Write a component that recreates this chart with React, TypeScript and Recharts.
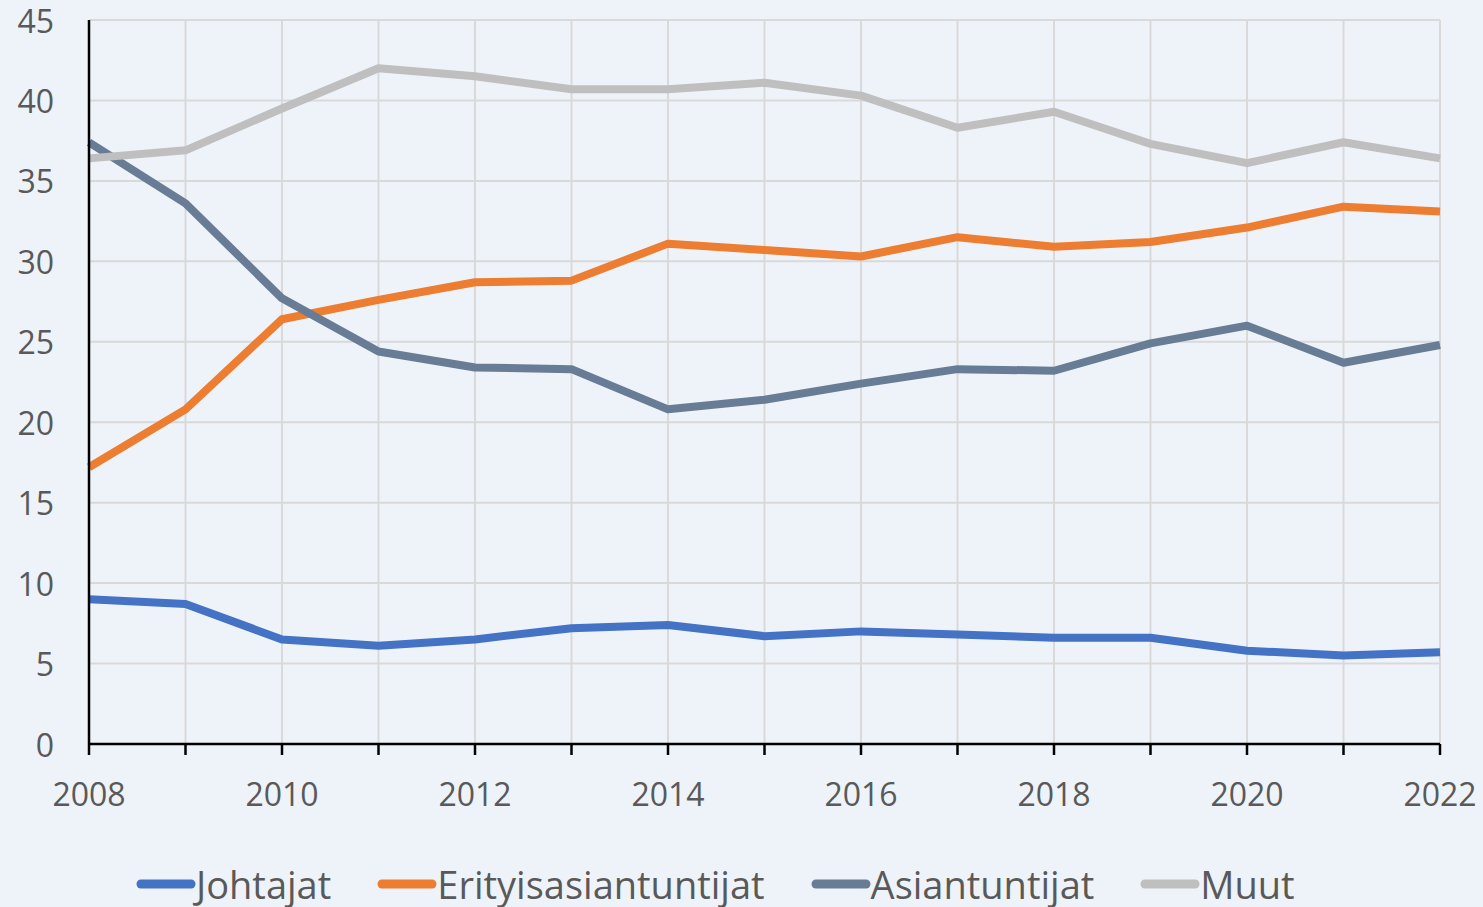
import { LineChart, Line, XAxis, YAxis, CartesianGrid, Legend } from "recharts";

const years = [2008, 2009, 2010, 2011, 2012, 2013, 2014, 2015, 2016, 2017, 2018, 2019, 2020, 2021, 2022];
const johtajat = [9.0, 8.7, 6.5, 6.1, 6.5, 7.2, 7.4, 6.7, 7.0, 6.8, 6.6, 6.6, 5.8, 5.5, 5.7];
const erityisasiantuntijat = [17.2, 20.8, 26.4, 27.6, 28.7, 28.8, 31.1, 30.7, 30.3, 31.5, 30.9, 31.2, 32.1, 33.4, 33.1];
const asiantuntijat = [37.4, 33.6, 27.7, 24.4, 23.4, 23.3, 20.8, 21.4, 22.4, 23.3, 23.2, 24.9, 26.0, 23.7, 24.8];
const muut = [36.4, 36.9, 39.5, 42.0, 41.5, 40.7, 40.7, 41.1, 40.3, 38.3, 39.3, 37.3, 36.1, 37.4, 36.4];
const yTicks = [0, 5, 10, 15, 20, 25, 30, 35, 40, 45];

const series = [
  { key: "johtajat", name: "Johtajat", color: "#4472C4" },
  { key: "erityisasiantuntijat", name: "Erityisasiantuntijat", color: "#ED7D31" },
  { key: "asiantuntijat", name: "Asiantuntijat", color: "#687C96" },
  { key: "muut", name: "Muut", color: "#BFBFBF" },
];

const data = years.map((year, i) => ({
  year,
  johtajat: johtajat[i],
  erityisasiantuntijat: erityisasiantuntijat[i],
  asiantuntijat: asiantuntijat[i],
  muut: muut[i],
}));

const FONT = "'Open Sans', 'Noto Sans', sans-serif";
const TEXT = "#595959";

function XTick(props: any) {
  const { x, y, payload } = props;
  if (payload.value % 2 !== 0) return null;
  return (
    <text x={x} y={y + 36} textAnchor="middle" dominantBaseline="central" fill={TEXT} fontSize={32} fontFamily={FONT}>
      {payload.value}
    </text>
  );
}

function YTick(props: any) {
  const { x, y, payload } = props;
  return (
    <text x={x - 35} y={y} textAnchor="end" dominantBaseline="central" fill={TEXT} fontSize={32} fontFamily={FONT}>
      {payload.value}
    </text>
  );
}

function LegendContent() {
  return (
    <div style={{ display: "flex", alignItems: "center", paddingLeft: 136, fontFamily: FONT, fontSize: 38, color: TEXT, height: 40 }}>
      {series.map((s) => (
        <div key={s.key} style={{ display: "flex", alignItems: "center", marginRight: 46 }}>
          <svg width={60} height={12} style={{ display: "block" }}>
            <line x1={5} y1={6} x2={55} y2={6} stroke={s.color} strokeWidth={9} strokeLinecap="round" />
          </svg>
          <span style={{ lineHeight: "40px", whiteSpace: "nowrap" }}>{s.name}</span>
        </div>
      ))}
    </div>
  );
}

export default function App() {
  return (
    <div style={{ position: "absolute", left: 0, top: 0, width: 1483, height: 907, background: "#EEF3F9" }}>
      <LineChart width={1483} height={907} data={data} margin={{ top: 20, right: 43, bottom: 0, left: 0 }}>
        <CartesianGrid stroke="#D9D9D9" strokeWidth={2} />
        <XAxis
          type="number"
          dataKey="year"
          domain={[2008, 2022]}
          ticks={years}
          interval={0}
          tick={<XTick />}
          tickSize={11}
          tickMargin={2}
          height={123}
          axisLine={{ stroke: "#000", strokeWidth: 2.5 }}
          tickLine={{ stroke: "#000", strokeWidth: 2.5 }}
        />
        <YAxis
          type="number"
          domain={[0, 45]}
          ticks={yTicks}
          interval={0}
          width={89}
          tick={<YTick />}
          tickSize={0}
          tickMargin={0}
          tickLine={false}
          axisLine={{ stroke: "#000", strokeWidth: 2.5 }}
        />
        <Legend content={<LegendContent />} wrapperStyle={{ left: 0, top: 864, width: 1483, height: 40 }} />
        {series.map((s) => (
          <Line
            key={s.key}
            type="linear"
            dataKey={s.key}
            name={s.name}
            stroke={s.color}
            strokeWidth={8}
            strokeLinejoin="round"
            dot={false}
            activeDot={false}
            isAnimationActive={false}
          />
        ))}
      </LineChart>
    </div>
  );
}
